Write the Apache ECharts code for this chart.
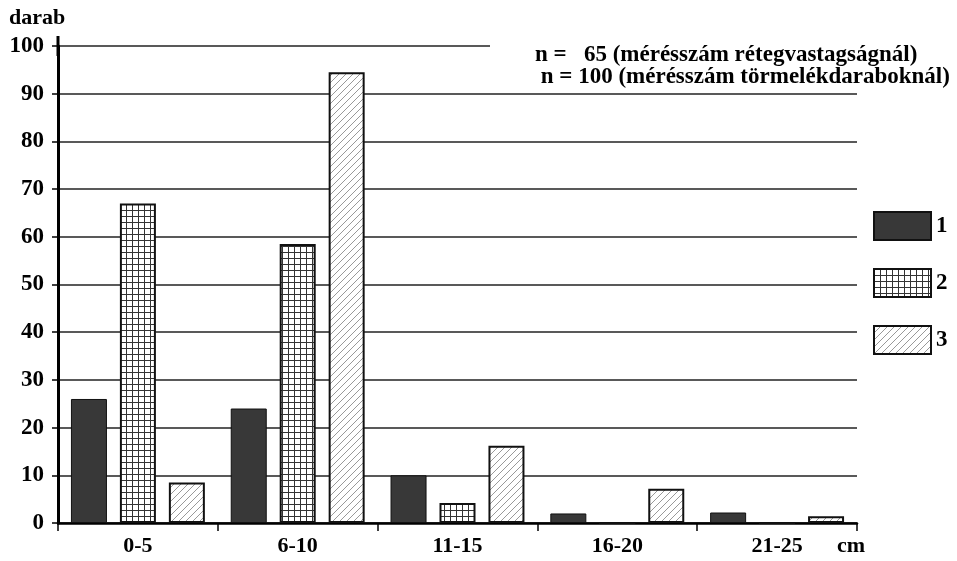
<!DOCTYPE html>
<html lang="hu">
<head>
<meta charset="UTF-8">
<title>darab</title>
<script src="https://cdn.jsdelivr.net/npm/echarts@6/dist/echarts.min.js"></script>
<style>
  html, body { margin: 0; padding: 0; background: #fff; }
</style>
</head>
<body>
<div id="container" style="width: 957px;height: 561px"></div>
<script>
// adatok
var categories = ['0-5', '6-10', '11-15', '16-20', '21-25'];
var seriesNames = ['1', '2', '3'];
var values1 = [26, 24, 10, 2, 2.2];
var values2 = [67, 58.5, 4.2, 0, 0];
var values3 = [8.5, 94.5, 16.2, 7.2, 1.4];
var yTicks = [0, 10, 20, 30, 40, 50, 60, 70, 80, 90, 100];

var serif = '"Liberation Serif", "DejaVu Serif", serif';

// kitöltési minták (rács és ferde vonalkázás)
function gridPattern() {
    var c = document.createElement('canvas');
    c.width = 6; c.height = 6;
    var ctx = c.getContext('2d');
    ctx.fillStyle = '#fff';
    ctx.fillRect(0, 0, 6, 6);
    ctx.fillStyle = '#333';
    ctx.fillRect(0, 0, 6, 1);
    ctx.fillRect(0, 0, 1, 6);
    return c;
}
function hatchPattern() {
    var c = document.createElement('canvas');
    c.width = 7; c.height = 7;
    var ctx = c.getContext('2d');
    ctx.fillStyle = '#fff';
    ctx.fillRect(0, 0, 7, 7);
    ctx.strokeStyle = '#999';
    ctx.lineWidth = 1;
    ctx.beginPath();
    ctx.moveTo(-1, 8); ctx.lineTo(8, -1);
    ctx.moveTo(-1, 1); ctx.lineTo(1, -1);
    ctx.moveTo(6, 8); ctx.lineTo(8, 6);
    ctx.stroke();
    return c;
}

var chart = echarts.init(document.getElementById('container'));

chart.setOption({
    backgroundColor: '#fff',
    animation: false,
    title: [
        {
            text: 'darab',
            left: 4,
            top: 2,
            textStyle: { fontFamily: serif, fontWeight: 'bold', fontSize: 22, color: '#000' }
        },
        {
            text: 'n =   65 (mérésszám rétegvastagságnál)\n n = 100 (mérésszám törmelékdaraboknál)',
            left: 490,
            top: 41,
            padding: [3, 10, 4, 45],
            backgroundColor: '#fff',
            textStyle: { fontFamily: serif, fontWeight: 'bold', fontSize: 23, lineHeight: 22, color: '#000' }
        }
    ],
    legend: {
        orient: 'vertical',
        left: 868,
        top: 206,
        itemWidth: 57,
        itemHeight: 28,
        itemGap: 27,
        icon: 'rect',
        data: seriesNames,
        textStyle: { fontFamily: serif, fontWeight: 'bold', fontSize: 23, color: '#000' }
    },
    grid: {
        left: 58,
        right: 100,
        top: 46,
        bottom: 38,
        containLabel: false
    },
    xAxis: {
        type: 'category',
        data: categories,
        name: 'cm',
        nameLocation: 'end',
        nameGap: -20,
        nameTextStyle: {
            fontFamily: serif, fontWeight: 'bold', fontSize: 22, color: '#000',
            verticalAlign: 'top', padding: [12, 0, 0, 0]
        },
        axisLine: { lineStyle: { color: '#000', width: 2.5 } },
        axisTick: { show: true, length: 8, lineStyle: { color: '#000', width: 1.5 } },
        axisLabel: {
            fontFamily: serif, fontWeight: 'bold', fontSize: 22, color: '#000', margin: 12
        },
        splitLine: { show: false }
    },
    yAxis: {
        type: 'value',
        min: yTicks[0],
        max: yTicks[yTicks.length - 1],
        interval: 10,
        axisLine: {
            show: true,
            symbol: ['none', 'rect'],
            symbolSize: [3, 20],
            lineStyle: { color: '#000', width: 3 }
        },
        axisTick: { show: true, length: 6, lineStyle: { color: '#000', width: 1.5 } },
        axisLabel: {
            fontFamily: serif, fontWeight: 'bold', fontSize: 23, color: '#000', margin: 14
        },
        splitLine: { show: true, lineStyle: { color: '#222', width: 1.5 } }
    },
    series: [
        {
            name: seriesNames[0],
            type: 'bar',
            barWidth: 36,
            barGap: '36%',
            itemStyle: { color: '#383838', borderColor: '#111', borderWidth: 1 },
            data: values1
        },
        {
            name: seriesNames[1],
            type: 'bar',
            barWidth: 36,
            barGap: '36%',
            itemStyle: { color: { image: gridPattern(), repeat: 'repeat' }, borderColor: '#111', borderWidth: 2 },
            data: values2
        },
        {
            name: seriesNames[2],
            type: 'bar',
            barWidth: 36,
            barGap: '36%',
            itemStyle: { color: { image: hatchPattern(), repeat: 'repeat' }, borderColor: '#111', borderWidth: 2 },
            data: values3
        }
    ]
});
</script>
</body>
</html>
